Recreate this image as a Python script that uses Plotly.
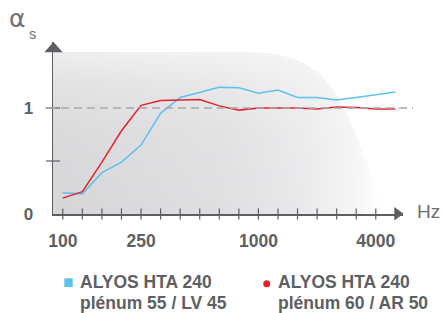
import plotly.graph_objects as go

# ---------------- data ----------------
freqs = ["100", "125", "160", "200", "250", "315", "400", "500", "630", "800",
         "1000", "1250", "1600", "2000", "2500", "3150", "4000", "5000"]
alyos_lv45 = [0.20, 0.19, 0.39, 0.49, 0.65, 0.95, 1.10, 1.15, 1.195, 1.19,
              1.14, 1.17, 1.10, 1.10, 1.075, 1.10, 1.125, 1.15]
alyos_ar50 = [0.15, 0.21, 0.49, 0.785, 1.025, 1.07, 1.075, 1.08, 1.02, 0.98,
              1.0, 1.0, 1.0, 0.99, 1.01, 1.005, 0.99, 0.99]
tick_labels = {"100": "100", "250": "250", "1000": "1000", "4000": "4000"}
series_names = [["ALYOS HTA 240", "plénum 55 / LV 45"], ["ALYOS HTA 240", "plénum 60 / AR 50"]]
series_colors = ["#5cc1ec", "#e8202a"]

# ---------------- layout geometry ----------------
W, H = 443, 313
AX_L, AX_R, AX_T, AX_B = 53, 403, 42, 214   # plot area in px
L, T, R, B = AX_L, AX_T, W - AX_R, H - AX_B
PW, PH = AX_R - AX_L, AX_B - AX_T
STEP = 19.5625                          # px per band
X0 = -0.5
XMAX = X0 + PW / STEP
YPX = 106.0                             # px per unit of alpha
YMAX = PH / YPX

def px2x(px):
    return X0 + (px - AX_L) / STEP

def px2y(py):
    return (AX_B - py) / YPX

def pxx(px):   # paper x from px
    return (px - AX_L) / PW

def pxy(py):   # paper y from px
    return (AX_B - py) / PH

idx = list(range(len(freqs)))
GRAY = "#5e5f63"
FONT = "Liberation Sans"

fig = go.Figure()

# background gradient area (decoration)
bg_px = [(53, 52), (250, 52), (275, 54), (298, 60), (318, 72), (335, 92),
         (350, 120), (364, 155), (378, 190), (388, 214), (53, 214), (53, 52)]
bx = [px2x(p[0]) for p in bg_px]
by = [px2y(p[1]) for p in bg_px]
fig.add_trace(go.Scatter(
    x=bx, y=by, mode="lines", line=dict(width=0), fill="toself",
    fillgradient=dict(type="horizontal",
                      colorscale=[[0, "#d6d5d8"], [0.5, "#dfdfe1"], [0.76, "#eaeaec"],
                                  [0.9, "#f5f5f6"], [0.98, "#ffffff"], [1, "#ffffff"]]),
    hoverinfo="skip", showlegend=False))
fig.add_trace(go.Scatter(
    x=bx, y=by, mode="lines", line=dict(width=0), fill="toself",
    fillgradient=dict(type="vertical",
                      colorscale=[[0, "rgba(255,255,255,0)"], [0.5, "rgba(255,255,255,0.1)"],
                                  [0.8, "rgba(255,255,255,0.3)"], [1, "rgba(255,255,255,0.6)"]]),
    hoverinfo="skip", showlegend=False))

# dashed reference at 1
fig.add_shape(type="line", xref="paper", yref="y", x0=pxx(48), x1=pxx(413), y0=1, y1=1,
              line=dict(color="#a8a8aa", width=1.3, dash="8px,5px"), layer="above")

# axis cross ticks
fig.add_trace(go.Scatter(
    x=idx[:-1], y=[0] * (len(idx) - 1), mode="markers",
    marker=dict(symbol="line-ns", size=8, line=dict(color=GRAY, width=1.2)),
    cliponaxis=False, hoverinfo="skip", showlegend=False))
fig.add_trace(go.Scatter(
    x=[X0, X0], y=[0.5, 1.0], mode="markers",
    marker=dict(symbol="line-ew", size=10, line=dict(color=GRAY, width=1.2)),
    cliponaxis=False, hoverinfo="skip", showlegend=False))

# data lines
for vals, col in zip([alyos_lv45, alyos_ar50], series_colors):
    fig.add_trace(go.Scatter(x=idx, y=vals, mode="lines",
                             line=dict(color=col, width=1.5),
                             cliponaxis=False, hoverinfo="skip", showlegend=False))

# axis arrows
fig.add_shape(type="path", xref="paper", yref="paper",
              path=f"M {pxx(44.3)},{pxy(52.3)} L {pxx(62.7)},{pxy(52.3)} L {pxx(53.5)},{pxy(42)} Z",
              fillcolor=GRAY, line=dict(width=0), layer="above")
fig.add_shape(type="path", xref="paper", yref="paper",
              path=f"M {pxx(394.3)},{pxy(207)} L {pxx(394.3)},{pxy(220.5)} L {pxx(403.5)},{pxy(213.7)} Z",
              fillcolor=GRAY, line=dict(width=0), layer="above")

# axis titles
def label(text, px, py, size, color, family=FONT, xanchor="center"):
    fig.add_annotation(x=pxx(px), y=pxy(py), xref="paper", yref="paper", text=text,
                       showarrow=False, xanchor=xanchor, yanchor="middle", align="left",
                       font=dict(family=family, size=size, color=color))

label("α", 17, 18.5, 25, "#707174", family="DejaVu Sans")
label("s", 32.3, 34.2, 14.5, "#707174")
label("Hz", 428, 211.7, 19, "#6d6e71")

# legend
fig.add_shape(type="rect", xref="paper", yref="paper",
              x0=pxx(64.3), x1=pxx(72.7), y0=pxy(287), y1=pxy(278.3),
              fillcolor=series_colors[0], line=dict(width=0))
fig.add_shape(type="circle", xref="paper", yref="paper",
              x0=pxx(263.2), x1=pxx(270.2), y0=pxy(287.2), y1=pxy(280.2),
              fillcolor=series_colors[1], line=dict(width=0))
for lines, xl in zip(series_names, [78, 276]):
    for line_text, yc in zip(lines, [282, 302.5]):
        label("<b>" + line_text + "</b>", xl, yc, 17.5, GRAY, xanchor="left")

fig.update_xaxes(range=[X0, XMAX], showgrid=False, zeroline=False,
                 showline=True, linecolor=GRAY, linewidth=1.5,
                 tickmode="array",
                 tickvals=[freqs.index(k) for k in tick_labels],
                 ticktext=["<b>" + v + "</b>" for v in tick_labels.values()],
                 ticks="outside", ticklen=10, tickcolor="rgba(0,0,0,0)",
                 tickfont=dict(family=FONT, size=17.5, color=GRAY))
fig.update_yaxes(range=[0, YMAX], showgrid=False, zeroline=False,
                 showline=True, linecolor=GRAY, linewidth=1.5,
                 tickmode="array", tickvals=[0, 1], ticktext=["<b>0</b>", "<b>1</b>"],
                 ticks="outside", ticklen=15, tickcolor="rgba(0,0,0,0)",
                 tickfont=dict(family=FONT, size=17, color=GRAY))
fig.update_layout(width=W, height=H, autosize=False,
                  margin=dict(l=L, r=R, t=T, b=B, pad=0, autoexpand=False),
                  plot_bgcolor="white", paper_bgcolor="white",
                  showlegend=False, hovermode=False)

fig.write_html("out.html", config={"displayModeBar": False, "staticPlot": True},
               post_script="document.body.style.margin='0';")
